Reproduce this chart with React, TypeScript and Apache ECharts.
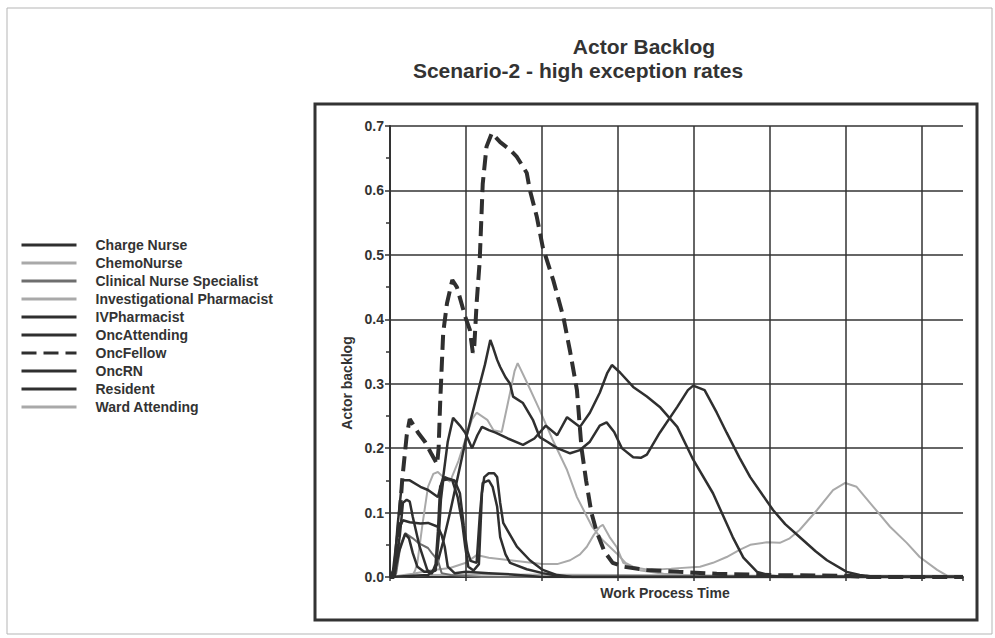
import React, { useEffect, useRef } from 'react';
import * as echarts from 'echarts';

// ---------- data (x in grid-interval units of "Work Process Time", y = actor backlog) ----------
const seriesNames = [
  'Charge Nurse',
  'ChemoNurse',
  'Clinical Nurse Specialist',
  'Investigational Pharmacist',
  'IVPharmacist',
  'OncAttending',
  'OncFellow',
  'OncRN',
  'Resident',
  'Ward Attending',
];

const xMax = 7.54;
const xGridLines = [1, 2, 3, 4, 5, 6, 7];

const chargeNurse = [[0,0],[0.5,0.003],[0.57,0.01],[0.62,0.02],[0.7,0.055],[0.79,0.1],[0.9,0.16],[1.01,0.22],[1.14,0.28],[1.25,0.33],[1.32,0.368],[1.36,0.355],[1.41,0.337],[1.45,0.326],[1.52,0.31],[1.58,0.3],[1.62,0.28],[1.75,0.27],[1.88,0.244],[1.97,0.217],[2.07,0.21],[2.2,0.2],[2.37,0.192],[2.5,0.197],[2.63,0.21],[2.76,0.235],[2.85,0.24],[2.95,0.225],[3.05,0.2],[3.2,0.186],[3.3,0.185],[3.38,0.19],[3.55,0.224],[3.78,0.264],[3.92,0.29],[3.99,0.297],[4.14,0.29],[4.3,0.255],[4.43,0.224],[4.6,0.185],[4.74,0.155],[5.04,0.104],[5.2,0.082],[5.39,0.062],[5.6,0.04],[5.75,0.026],[6.01,0.008],[6.18,0.003],[6.4,0],[7.54,0]];

const chemoNurse = [[0,0],[0.3,0.003],[0.33,0.01],[0.36,0.022],[0.43,0.084],[0.5,0.14],[0.57,0.16],[0.63,0.163],[0.7,0.155],[0.79,0.148],[0.9,0.18],[1.01,0.22],[1.08,0.245],[1.14,0.255],[1.28,0.244],[1.36,0.228],[1.47,0.225],[1.58,0.286],[1.64,0.32],[1.68,0.332],[1.81,0.3],[1.97,0.259],[2.14,0.213],[2.33,0.166],[2.46,0.124],[2.66,0.078],[2.8,0.057],[2.98,0.037],[3.1,0.022],[3.3,0.01],[3.6,0.005],[4.0,0.002],[4.3,0],[7.54,0]];

const clinicalNurseSpecialist = [[0,0],[0.08,0.005],[0.14,0.05],[0.2,0.068],[0.3,0.06],[0.37,0.053],[0.5,0.045],[0.55,0.037],[0.63,0.026],[0.68,0.006],[0.8,0.003],[1.2,0],[7.54,0]];

const investigationalPharmacist = [[0,0],[0.5,0.003],[1.5,0.004],[3,0.003],[5,0.002],[7.54,0.002]];

const ivPharmacist = [[0,0],[0.03,0],[0.1,0.04],[0.13,0.065],[0.17,0.115],[0.22,0.12],[0.26,0.117],[0.3,0.093],[0.39,0.047],[0.49,0.011],[0.55,0.005],[0.6,0.02],[0.63,0.07],[0.66,0.14],[0.72,0.155],[0.82,0.15],[0.89,0.124],[0.95,0.084],[0.99,0.047],[1.03,0.016],[1.1,0.01],[1.17,0.02],[1.21,0.13],[1.24,0.155],[1.3,0.161],[1.37,0.161],[1.41,0.155],[1.45,0.115],[1.49,0.084],[1.67,0.047],[1.84,0.026],[2.01,0.011],[2.2,0.003],[2.4,0],[7.54,0]];

const oncAttending = [[0,0],[0.05,0],[0.12,0.04],[0.2,0.067],[0.25,0.06],[0.3,0.037],[0.36,0.016],[0.45,0.008],[0.55,0.008],[0.6,0.01],[0.64,0.06],[0.67,0.12],[0.7,0.15],[0.78,0.152],[0.85,0.15],[0.92,0.13],[0.97,0.08],[1.02,0.04],[1.06,0.025],[1.14,0.022],[1.18,0.093],[1.22,0.146],[1.3,0.15],[1.35,0.14],[1.41,0.109],[1.45,0.062],[1.52,0.035],[1.58,0.022],[1.8,0.012],[2.01,0.006],[2.3,0],[7.54,0]];

const oncFellow = [[0,0],[0.05,0],[0.1,0.05],[0.16,0.15],[0.22,0.22],[0.26,0.245],[0.37,0.224],[0.46,0.21],[0.55,0.19],[0.62,0.175],[0.64,0.2],[0.66,0.27],[0.7,0.379],[0.75,0.425],[0.82,0.461],[0.88,0.45],[0.99,0.404],[1.05,0.384],[1.09,0.348],[1.11,0.36],[1.14,0.425],[1.18,0.49],[1.22,0.61],[1.27,0.668],[1.34,0.689],[1.45,0.675],[1.58,0.663],[1.67,0.652],[1.8,0.627],[1.84,0.601],[1.93,0.56],[2.01,0.512],[2.15,0.46],[2.28,0.404],[2.37,0.35],[2.46,0.29],[2.52,0.2],[2.58,0.15],[2.65,0.1],[2.72,0.07],[2.82,0.04],[2.93,0.022],[3.07,0.016],[3.38,0.011],[3.8,0.008],[4.3,0.005],[5.0,0.003],[6.0,0.002],[6.3,0],[7.54,0]];

const oncRN = [[0,0],[0.05,0.005],[0.1,0.08],[0.16,0.15],[0.26,0.15],[0.4,0.14],[0.5,0.135],[0.63,0.124],[0.7,0.155],[0.76,0.21],[0.83,0.247],[0.92,0.235],[0.99,0.224],[1.08,0.2],[1.15,0.22],[1.21,0.233],[1.3,0.228],[1.39,0.224],[1.55,0.215],[1.75,0.205],[1.9,0.215],[2.05,0.235],[2.2,0.22],[2.33,0.248],[2.5,0.233],[2.63,0.255],[2.76,0.286],[2.86,0.317],[2.92,0.329],[3.03,0.317],[3.2,0.295],[3.38,0.28],[3.55,0.264],[3.78,0.233],[3.99,0.182],[4.25,0.13],[4.51,0.062],[4.65,0.03],[4.83,0.008],[5.0,0.002],[5.2,0],[7.54,0]];

const resident = [[0,0],[0.04,0.01],[0.1,0.07],[0.17,0.088],[0.26,0.085],[0.4,0.083],[0.5,0.084],[0.63,0.078],[0.68,0.065],[0.72,0.047],[0.76,0.016],[0.85,0.006],[1.0,0.008],[1.3,0.006],[1.6,0.004],[2.0,0],[7.54,0]];

const wardAttending = [[0,0],[0.3,0.005],[0.57,0.011],[0.79,0.014],[1.0,0.022],[1.14,0.034],[1.3,0.03],[1.58,0.026],[2.0,0.02],[2.2,0.02],[2.37,0.026],[2.5,0.035],[2.59,0.047],[2.68,0.065],[2.76,0.078],[2.8,0.081],[2.89,0.062],[2.98,0.047],[3.07,0.022],[3.2,0.015],[3.42,0.011],[3.7,0.013],[4.08,0.016],[4.25,0.022],[4.43,0.031],[4.6,0.042],[4.74,0.05],[4.96,0.054],[5.13,0.053],[5.26,0.06],[5.39,0.073],[5.62,0.104],[5.83,0.135],[5.99,0.146],[6.14,0.14],[6.36,0.109],[6.58,0.078],[6.8,0.053],[6.97,0.031],[7.2,0.011],[7.33,0.002],[7.54,0]];

const seriesData = [
  chargeNurse,
  chemoNurse,
  clinicalNurseSpecialist,
  investigationalPharmacist,
  ivPharmacist,
  oncAttending,
  oncFellow,
  oncRN,
  resident,
  wardAttending,
];

// ---------- styles ----------
const DARK = '#2f2f2f';
const GRAY = '#a9a9a9';
const MID = '#6e6e6e';
const FONT = '"Liberation Sans", Arial, sans-serif';

const lineStyles: any[] = [
  { color: DARK, width: 2.5, type: 'solid' },
  { color: GRAY, width: 2, type: 'solid' },
  { color: MID, width: 2, type: 'solid' },
  { color: GRAY, width: 2, type: 'solid' },
  { color: DARK, width: 2.5, type: 'solid' },
  { color: DARK, width: 2.5, type: 'solid' },
  { color: DARK, width: 4, type: [15, 7] },
  { color: DARK, width: 2.5, type: 'solid' },
  { color: DARK, width: 2.5, type: 'solid' },
  { color: GRAY, width: 2, type: 'solid' },
];

export default function App() {
  const ref = useRef<HTMLDivElement>(null);

  useEffect(() => {
    if (!ref.current) return;
    const chart = echarts.init(ref.current, undefined, { renderer: 'svg' });

    const series: any[] = seriesNames.map((name, i) => ({
      name,
      type: 'line',
      data: seriesData[i],
      symbol: 'none',
      showSymbol: false,
      smooth: false,
      lineStyle: lineStyles[i],
      itemStyle: { color: lineStyles[i].color },
      z: i === 6 ? 5 : lineStyles[i].color === GRAY ? 2 : 3,
    }));

    // vertical grid lines through the library's x scale
    series[0].markLine = {
      silent: true,
      symbol: 'none',
      label: { show: false },
      lineStyle: { color: '#333', width: 1.5, type: 'solid' },
      data: xGridLines.map((v) => ({ xAxis: v })),
    };

    const option: any = {
      animation: false,
      backgroundColor: '#ffffff',
      grid: { left: 390, right: 32, top: 126, bottom: 61 },
      legend: {
        data: seriesNames,
        orient: 'vertical',
        left: 15,
        top: 233,
        itemWidth: 55,
        itemHeight: 14,
        itemGap: 4,
        selectedMode: false,
        itemStyle: { color: 'rgba(0,0,0,0)', borderColor: 'rgba(0,0,0,0)', borderWidth: 0, opacity: 0 },
        lineStyle: { width: 3 },
        textStyle: {
          fontFamily: FONT,
          fontWeight: 'bold',
          fontSize: 14,
          color: '#333',
          padding: [0, 0, 0, 14],
        },
      },
      xAxis: {
        type: 'value',
        min: 0,
        max: xMax,
        interval: 1,
        axisLine: { show: true, lineStyle: { color: '#333', width: 2 } },
        axisTick: { show: true, length: 4, lineStyle: { color: '#333', width: 1.5 } },
        axisLabel: { show: false },
        splitLine: { show: false },
      },
      yAxis: {
        type: 'value',
        min: 0,
        max: 0.7,
        interval: 0.1,
        axisLine: { show: true, lineStyle: { color: '#333', width: 2 } },
        axisTick: { show: true, length: 5, lineStyle: { color: '#333', width: 1.5 } },
        minorTick: { show: true, splitNumber: 2, length: 4, lineStyle: { color: '#333', width: 1.5 } },
        axisLabel: {
          margin: 6,
          fontFamily: FONT,
          fontWeight: 'bold',
          fontSize: 14,
          color: '#333',
          formatter: (v: number) => v.toFixed(1),
        },
        splitLine: { show: true, lineStyle: { color: '#333', width: 1.5 } },
      },
      graphic: [
        {
          type: 'rect',
          silent: true,
          shape: { x: 7, y: 8, width: 985, height: 626 },
          style: { fill: 'none', stroke: '#b5b5b5', lineWidth: 1 },
        },
        {
          type: 'rect',
          silent: true,
          shape: { x: 315, y: 104, width: 662, height: 516 },
          style: { fill: 'none', stroke: '#333', lineWidth: 3 },
        },
        {
          type: 'text',
          silent: true,
          x: 644,
          y: 46,
          style: {
            text: 'Actor Backlog',
            align: 'center',
            verticalAlign: 'middle',
            font: `bold 21px ${FONT}`,
            fill: '#333',
          },
        },
        {
          type: 'text',
          silent: true,
          x: 578,
          y: 70,
          style: {
            text: 'Scenario-2 - high exception rates',
            align: 'center',
            verticalAlign: 'middle',
            font: `bold 21px ${FONT}`,
            fill: '#333',
          },
        },
        {
          type: 'text',
          silent: true,
          x: 665,
          y: 593,
          style: {
            text: 'Work Process Time',
            align: 'center',
            verticalAlign: 'middle',
            font: `bold 14px ${FONT}`,
            fill: '#333',
          },
        },
        {
          type: 'text',
          silent: true,
          x: 347,
          y: 383,
          rotation: Math.PI / 2,
          style: {
            text: 'Actor backlog',
            align: 'center',
            verticalAlign: 'middle',
            font: `bold 14px ${FONT}`,
            fill: '#333',
          },
        },
      ],
      series,
    };

    chart.setOption(option);
    return () => chart.dispose();
  }, []);

  return (
    <div
      ref={ref}
      style={{ position: 'absolute', left: 0, top: 0, width: 995, height: 638 }}
    />
  );
}
